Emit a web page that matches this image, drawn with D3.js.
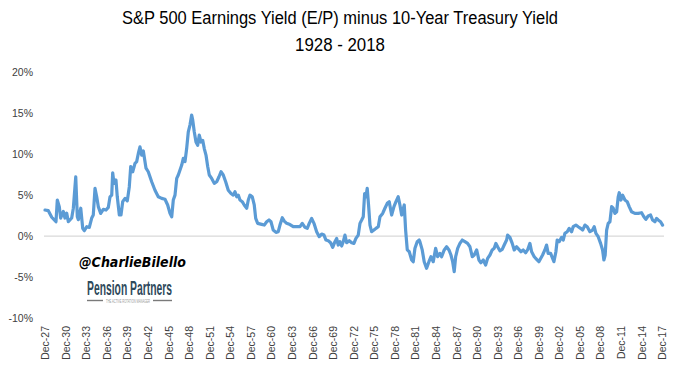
<!DOCTYPE html>
<html>
<head>
<meta charset="utf-8">
<script src="https://cdn.jsdelivr.net/npm/d3@7"></script>
<style>
  html, body { margin: 0; padding: 0; background: #fff; }
  svg { display: block; font-family: "Liberation Sans", Arial, sans-serif; }
</style>
</head>
<body>
<div id="chart"></div>
<script>
// ---- Data (decimal year, spread in %) ----
const years = [
1927.92,1928.40,1928.90,1929.52,1929.71,1930.00,1930.20,1930.59,1930.83,1931.08,1931.32,1931.81,1932.05,1932.40,1932.63,1932.78,
1933.13,1933.42,1933.65,1934.00,1934.38,1934.73,1934.96,1935.21,1935.46,1935.69,1936.04,1936.42,1936.82,1937.15,1937.40,1937.65,
1937.79,1937.98,1938.27,1938.46,1938.76,1939.00,1939.25,1939.59,1939.92,1940.21,1940.42,1940.71,1941.05,1941.29,1941.53,1941.77,
1942.02,1942.26,1942.65,1942.98,1943.48,1943.96,1944.44,1944.94,1945.42,1945.81,1946.15,1946.40,1946.63,1946.88,1947.13,1947.36,
1947.61,1947.86,1948.09,1948.34,1948.58,1948.82,1949.07,1949.31,1949.46,1949.69,1949.94,1950.19,1950.42,1950.67,1950.92,1951.15,
1951.40,1951.65,1951.88,1952.23,1952.61,1952.96,1953.30,1953.59,1953.92,1954.27,1954.65,1955.05,1955.38,1955.63,1955.88,1956.11,
1956.36,1956.69,1956.98,1957.34,1957.57,1957.82,1958.15,1958.44,1958.65,1958.94,1959.52,1959.90,1960.25,1960.59,1960.88,1961.21,
1961.61,1961.94,1962.19,1962.53,1962.82,1963.17,1963.65,1964.13,1964.63,1965.11,1965.44,1965.84,1966.17,1966.46,1966.81,1967.15,
1967.54,1967.92,1968.27,1968.61,1968.90,1969.24,1969.58,1969.88,1970.21,1970.46,1970.69,1970.94,1971.19,1971.42,1971.67,1971.92,
1972.30,1972.65,1972.98,1973.27,1973.61,1973.86,1974.11,1974.34,1974.54,1974.73,1974.92,1975.13,1975.32,1975.56,1975.90,1976.19,
1976.53,1976.78,1977.17,1977.50,1977.84,1978.13,1978.48,1978.82,1979.11,1979.44,1979.69,1979.94,1980.32,1980.52,1980.76,1981.05,
1981.40,1981.63,1981.88,1982.21,1982.50,1982.60,1982.94,1983.23,1983.58,1983.92,1984.21,1984.55,1984.90,1985.19,1985.52,1985.77,
1986.15,1986.50,1986.84,1987.13,1987.38,1987.61,1987.82,1988.11,1988.44,1988.78,1989.17,1989.56,1989.90,1990.24,1990.53,1990.88,
1991.21,1991.50,1991.84,1992.19,1992.48,1992.82,1993.15,1993.44,1993.69,1993.94,1994.27,1994.61,1994.90,1995.25,1995.40,1995.73,
1996.07,1996.36,1996.71,1997.04,1997.34,1997.67,1998.02,1998.31,1998.65,1998.90,1999.28,1999.63,1999.96,2000.36,2000.50,2000.83,
2001.08,2001.31,2001.67,2001.96,2002.15,2002.44,2002.63,2002.92,2003.27,2003.51,2003.75,2004.09,2004.38,2004.73,2004.96,2005.36,
2005.69,2006.04,2006.34,2006.67,2007.01,2007.40,2007.79,2008.03,2008.28,2008.61,2008.96,2009.25,2009.44,2009.63,2009.84,2010.07,
2010.32,2010.57,2010.80,2011.05,2011.30,2011.53,2011.68,2011.93,2012.17,2012.51,2012.84,2013.13,2013.48,2013.96,2014.44,2014.94,
2015.27,2015.56,2015.90,2016.25,2016.54,2016.88,2017.12,2017.36,2017.71,2018.00
];
const spread = [
3.18,3.1,2.3,1.75,4.4,3.6,2.2,3.0,2.2,2.8,1.75,2.2,3.4,7.25,2.36,2.0,
3.4,0.94,0.65,1.14,1.06,2.2,2.57,5.83,4.8,3.6,2.77,3.26,3.18,3.5,4.8,5.0,
7.74,6.44,6.85,4.8,2.57,2.57,4.2,4.6,4.3,6.0,8.5,7.86,8.9,9.1,10.1,10.9,
9.9,10.4,8.3,7.86,6.64,5.6,4.8,4.6,4.5,3.8,2.77,2.36,4.4,5.0,7.05,7.46,
8.07,8.68,9.5,9.1,10.7,12.75,13.6,14.8,14.2,12.75,11.5,11.1,12.35,11.5,11.7,10.7,
9.9,8.5,7.46,7.05,6.44,6.64,7.25,7.86,7.46,6.64,5.6,5.2,5.0,5.42,4.8,5.0,
4.4,4.2,3.8,3.4,4.4,5.0,4.8,3.8,2.16,1.55,1.43,1.34,1.75,1.96,1.75,0.73,
0.45,0.53,1.34,2.24,1.83,1.55,1.4,1.14,1.14,1.14,1.55,1.06,0.94,1.55,2.16,1.55,
0.53,-0.08,0.24,0.12,-0.49,-0.57,-0.82,-1.39,-0.69,-0.29,-1.1,-0.69,-1.22,-0.69,0.12,-0.82,
-0.57,-0.82,-0.9,-0.29,0.12,1.55,1.96,2.36,5.2,4.8,5.83,3.6,1.34,0.53,0.73,0.94,
1.14,2.36,2.77,3.4,4.0,4.2,2.57,3.6,4.2,4.8,3.8,2.57,3.8,0.73,-1.7,-1.92,
-2.93,-3.14,-1.5,-0.69,-0.49,-0.69,-1.7,-3.14,-3.95,-3.14,-2.53,-3.14,-1.5,-2.53,-2.12,-2.53,
-1.7,-1.31,-1.7,-2.32,-3.14,-4.36,-2.53,-1.5,-0.9,-0.49,-0.69,-0.9,-1.31,-2.53,-2.32,-1.7,
-2.93,-3.26,-2.93,-3.55,-2.73,-2.32,-1.7,-1.5,-0.9,-1.31,-1.8,-1.63,-1.1,-0.49,0.12,-0.16,
-0.9,-1.7,-1.31,-1.63,-1.92,-1.7,-2.04,-1.7,-0.9,-1.92,-2.53,-2.85,-3.14,-2.53,-2.32,-1.7,
-1.1,-2.12,-2.12,-2.73,-3.14,-1.92,-0.49,-0.69,-0.16,-0.49,0.33,0.53,0.94,0.53,1.14,1.34,
1.14,0.94,0.73,1.34,1.14,0.53,0.73,1.14,0.33,-0.08,-0.9,-1.7,-2.93,-2.32,0.73,1.55,
1.75,3.6,3.4,2.77,2.97,4.8,5.3,4.4,5.0,4.4,4.2,3.6,2.97,2.77,2.77,2.85,
2.36,2.04,2.45,2.57,1.96,1.75,2.16,1.96,1.75,1.34
];
const xTickLabels = ["Dec-27","Dec-30","Dec-33","Dec-36","Dec-39","Dec-42","Dec-45","Dec-48","Dec-51","Dec-54","Dec-57",
  "Dec-60","Dec-63","Dec-66","Dec-69","Dec-72","Dec-75","Dec-78","Dec-81","Dec-84","Dec-87","Dec-90","Dec-93","Dec-96",
  "Dec-99","Dec-02","Dec-05","Dec-08","Dec-11","Dec-14","Dec-17"];
const yTicks = [-10, -5, 0, 5, 10, 15, 20];
const titleLines = ["S&P 500 Earnings Yield (E/P) minus 10-Year Treasury Yield", "1928 - 2018"];

// ---- Layout ----
const W = 678, H = 369;
const svg = d3.select("#chart").append("svg").attr("width", W).attr("height", H);

const labelYear = l => { const yy = +l.slice(4); return (yy >= 27 ? 1900 : 2000) + yy + 11/12; };
const x = d3.scaleLinear().domain([labelYear("Dec-27"), labelYear("Dec-17")]).range([45, 662]);
const y = d3.scaleLinear().domain([-10, 20]).range([317.8, 72.5]);

// title
svg.append("text").attr("x", 340).attr("y", 24).attr("text-anchor", "middle")
  .attr("font-size", 17.5).attr("fill", "#000")
  .attr("textLength", 436).attr("lengthAdjust", "spacingAndGlyphs")
  .text(titleLines[0]);
svg.append("text").attr("x", 340).attr("y", 51).attr("text-anchor", "middle")
  .attr("font-size", 17.5).attr("fill", "#000")
  .attr("textLength", 90).attr("lengthAdjust", "spacingAndGlyphs")
  .text(titleLines[1]);

// y axis labels
const yAxis = d3.axisLeft(y).tickValues(yTicks).tickSize(0).tickPadding(0)
  .tickFormat(d => d + "%");
const gy = svg.append("g").attr("transform", "translate(33,0)").call(yAxis);
gy.select(".domain").remove();
gy.selectAll("text").attr("font-size", 10.5).attr("fill", "#404040")
  .attr("font-family", "Liberation Sans, Arial, sans-serif");

// zero line
svg.append("line").attr("x1", 44).attr("x2", 664)
  .attr("y1", y(0)).attr("y2", y(0))
  .attr("stroke", "#d9d9d9").attr("stroke-width", 1.2);

// x axis labels
const xAxis = d3.axisBottom(x).tickValues(xTickLabels.map(labelYear)).tickSize(0)
  .tickFormat((d, i) => xTickLabels[i]);
const gx = svg.append("g").attr("transform", "translate(0,326)").call(xAxis);
gx.select(".domain").remove();
gx.selectAll("text")
  .attr("font-size", 10.5).attr("fill", "#404040")
  .attr("font-family", "Liberation Sans, Arial, sans-serif")
  .attr("text-anchor", "end")
  .attr("transform", "rotate(-90)")
  .attr("x", 0).attr("y", 0).attr("dx", 0).attr("dy", "0.35em");

// watermark
svg.append("text").attr("x", 79).attr("y", 267)
  .attr("font-size", 14).attr("font-weight", "bold").attr("font-style", "italic")
  .attr("font-family", "DejaVu Sans, sans-serif").attr("fill", "#000")
  .attr("textLength", 107).attr("lengthAdjust", "spacingAndGlyphs")
  .text("@CharlieBilello");
svg.append("text").attr("x", 87).attr("y", 295)
  .attr("font-size", 21).attr("font-weight", "bold").attr("fill", "#2f4a5c")
  .attr("font-family", "Liberation Sans Narrow, Liberation Sans, sans-serif")
  .attr("textLength", 85).attr("lengthAdjust", "spacingAndGlyphs")
  .text("Pension Partners");
svg.append("line").attr("x1", 87).attr("x2", 103).attr("y1", 300.5).attr("y2", 300.5)
  .attr("stroke", "#7a7a7a").attr("stroke-width", 1.4);
svg.append("line").attr("x1", 153).attr("x2", 172).attr("y1", 300.5).attr("y2", 300.5)
  .attr("stroke", "#7a7a7a").attr("stroke-width", 1.4);
svg.append("text").attr("x", 128).attr("y", 302.5).attr("text-anchor", "middle")
  .attr("font-size", 4.5).attr("fill", "#9a9a9a")
  .attr("textLength", 44).attr("lengthAdjust", "spacingAndGlyphs")
  .text("THE ACTIVE ROTATION MANAGER");

// series line
const pts = years.map((yr, i) => [yr, spread[i]]);
const line = d3.line().x(d => x(d[0])).y(d => y(d[1]));
svg.append("path").datum(pts).attr("d", line)
  .attr("fill", "none").attr("stroke", "#5b9bd5")
  .attr("stroke-width", 3.2).attr("stroke-linejoin", "round").attr("stroke-linecap", "round");
</script>
</body>
</html>
